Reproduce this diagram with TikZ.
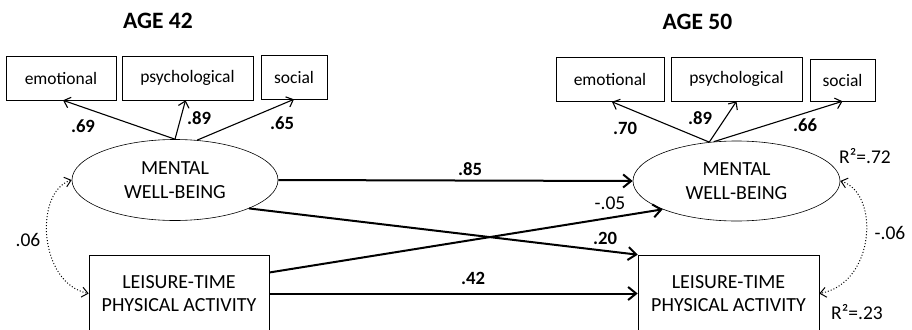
\documentclass[tikz,border=0pt]{standalone}
\usepackage{fontspec}
\setmainfont{Carlito}
\usetikzlibrary{arrows.meta,shapes.geometric,calc}

\begin{document}
\begin{tikzpicture}[x=1pt,y=-1pt,semithick,
  ind/.style={draw,inner sep=0pt,minimum height=44pt,font=\fontsize{17.5}{20}\selectfont},
  lat/.style={draw,ellipse,inner sep=0pt,minimum width=206pt,minimum height=81pt,
    align=center,font=\fontsize{20}{24}\selectfont},
  obs/.style={draw,inner sep=0pt,minimum width=180pt,minimum height=77pt,
    align=center,font=\fontsize{20}{23}\selectfont},
  title/.style={font=\fontsize{23.5}{26}\selectfont\bfseries},
  coef/.style={font=\fontsize{18.7}{20}\selectfont\bfseries},
  est/.style={font=\fontsize{19.5}{20}\selectfont},
  load/.style={-{Straight Barb[length=6pt,width=11pt]},line width=1.1pt},
  path/.style={-{Straight Barb[length=8pt,width=13pt]},line width=2pt},
  cov/.style={{Straight Barb[length=6pt,width=10pt]}-{Straight Barb[length=6pt,width=10pt]},
    dotted,line width=1pt}]
  \useasboundingbox (0,0) rectangle (912,329);

  % age 42
  \node[title] (age42) at (158,21) {AGE 42};
  \node[ind,minimum width=110pt] (emo1) at (61,78) {emotional};
  \node[ind,minimum width=131pt] (psy1) at (187.5,78) {psychological};
  \node[ind,minimum width=66pt] (soc1) at (294,77) {social};
  \node[lat] (mwb1) at (175,180) {MENTAL\\WELL-BEING};
  \node[obs] (lpa1) at (179,293.5) {LEISURE-TIME\\PHYSICAL ACTIVITY};

  % age 50
  \node[title] (age50) at (697.5,22) {AGE 50};
  \node[ind,minimum width=108pt] (emo2) at (610,79.5) {emotional};
  \node[ind,minimum width=131pt] (psy2) at (736.5,79) {psychological};
  \node[ind,minimum width=65pt,minimum height=42pt] (soc2) at (842.5,80) {social};
  \node[lat,minimum width=207pt,minimum height=80pt] (mwb2) at (736.5,181) {MENTAL\\WELL-BEING};
  \node[obs,minimum width=181pt] (lpa2) at (728.5,293.5) {LEISURE-TIME\\PHYSICAL ACTIVITY};

  % loadings
  \draw[load] (mwb1.north) -- ($(emo1.south)+(2,0)$);
  \draw[load] (mwb1.north) -- ($(psy1.south)+(-2,0)$);
  \draw[load] (mwb1.61) -- (soc1.south);
  \draw[load] (mwb2.125) -- ($(emo2.south)+(2,0)$);
  \draw[load] (mwb2.125) -- (psy2.south);
  \draw[load] (mwb2.120) -- (soc2.south);
  \node[coef] (l69) at (83,126) {.69};
  \node[coef] (l89a) at (199,118) {.89};
  \node[coef] (l65) at (282,123) {.65};
  \node[coef] (l70) at (625,128) {.70};
  \node[coef] (l89b) at (700,118) {.89};
  \node[coef] (l66) at (805,125) {.66};

  % paths
  \draw[path] (mwb1.east) -- (mwb2.west);
  \draw[path] (mwb1.-21) -- (lpa2.north west);
  \draw[path] ($(lpa1.east)+(0,-21)$) -- (mwb2.201);
  \draw[path] (lpa1.east) -- (lpa2.west);
  \node[coef] (p85) at (470,169) {.85};
  \node[coef] (p20) at (605,238) {.20};
  \node[est] (p05) at (610,203) {-.05};
  \node[coef] (p42) at (473,278) {.42};

  % covariances
  \draw[cov] (mwb1.west) .. controls +(-38,12) and +(-50,-10) .. (lpa1.west);
  \draw[cov] (mwb2.east) .. controls +(40,12) and +(56,-10) .. (lpa2.east);
  \node[est] (c06a) at (28,240) {.06};
  \node[est] (c06b) at (890,233) {-.06};
  \node[est] (r72) at (865,156) {R²=.72};
  \node[est] (r23) at (857,312) {R²=.23};
\end{tikzpicture}
\end{document}
